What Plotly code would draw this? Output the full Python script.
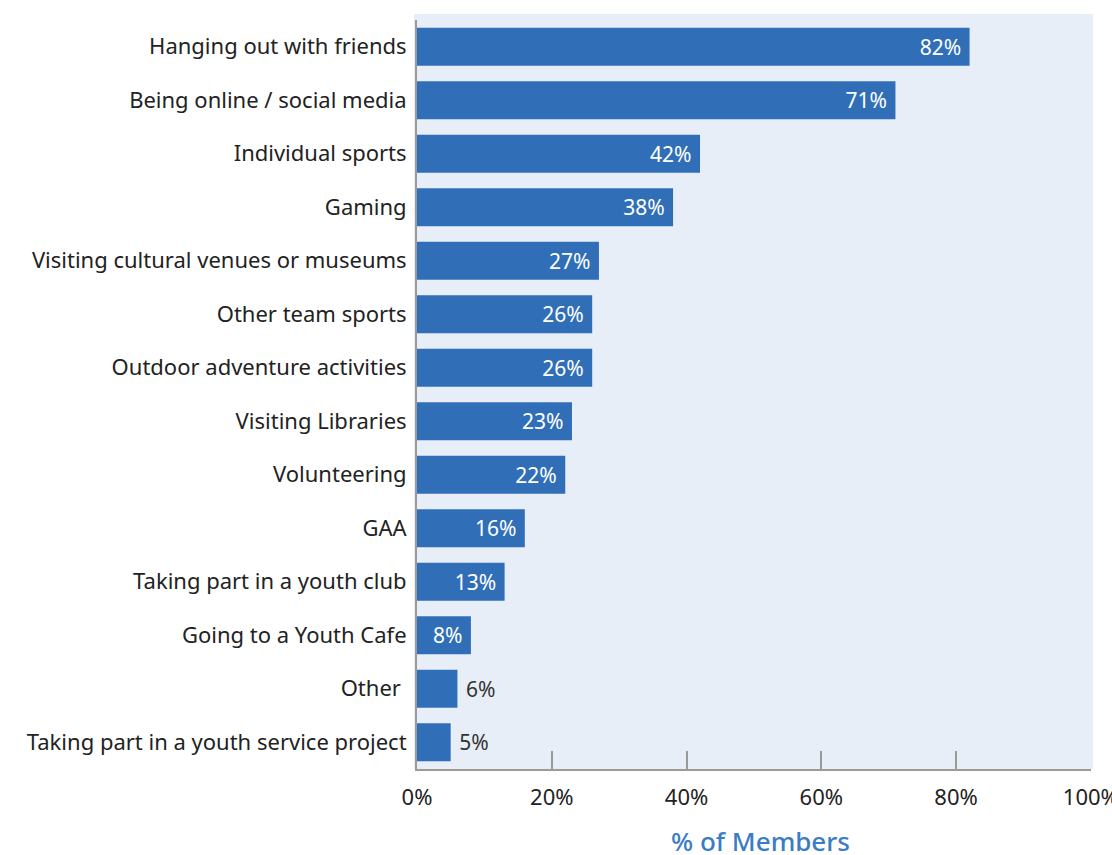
import plotly.graph_objects as go

# Leisure activities of members, share of members (%)
activities = [
    "Hanging out with friends",
    "Being online / social media",
    "Individual sports",
    "Gaming",
    "Visiting cultural venues or museums",
    "Other team sports",
    "Outdoor adventure activities",
    "Visiting Libraries",
    "Volunteering",
    "GAA",
    "Taking part in a youth club",
    "Going to a Youth Cafe",
    "Other ",
    "Taking part in a youth service project",
]
shares = [82, 71, 42, 38, 27, 26, 26, 23, 22, 16, 13, 8, 6, 5]

x_ticks = [0, 20, 40, 60, 80, 100]
x_tick_labels = ["0%", "20%", "40%", "60%", "80%", "100%"]
x_title = "% of Members"

BAR = "#306fb8"
FONT = "'Noto Sans', 'Open Sans', sans-serif"
NB = "\u00a0"

# long bars carry their label inside, short ones just past the end
positions = ["inside" if v >= 8 else "outside" for v in shares]
labels = [f"{v}%{NB}" if v >= 8 else f"{NB}{v}%" for v in shares]

fig = go.Figure(
    go.Bar(
        x=shares,
        y=activities,
        orientation="h",
        marker=dict(color=BAR, line=dict(width=0)),
        width=0.71,
        text=labels,
        textposition=positions,
        insidetextanchor="end",
        insidetextfont=dict(color="white", size=21, family=FONT),
        outsidetextfont=dict(color="#333333", size=21, family=FONT),
        textangle=0,
        cliponaxis=False,
        hoverinfo="skip",
    )
)

# light panel behind the bars, slightly wider than the axes
fig.add_shape(
    type="rect", xref="paper", yref="paper",
    x0=-0.0045, x1=1.003, y0=0, y1=1.008,
    fillcolor="#e8eef7", line=dict(width=0), layer="below",
)

# x-axis title placed under the tick labels
fig.add_annotation(
    text=x_title, xref="paper", yref="paper",
    x=0.51, y=-0.0955, xanchor="center", yanchor="middle",
    showarrow=False, borderpad=0,
    font=dict(size=26, color="#3a7cc5", family=FONT, weight=500),
)

fig.update_layout(
    width=1112,
    height=855,
    margin=dict(l=417, r=21, t=20, b=86, autoexpand=False),
    paper_bgcolor="white",
    plot_bgcolor="rgba(0,0,0,0)",
    showlegend=False,
    font=dict(family=FONT, color="#222222", size=22),
    uniformtext=dict(minsize=10),
)

fig.update_xaxes(
    range=[0, 100.02],
    tickvals=x_ticks,
    ticktext=x_tick_labels,
    ticks="inside",
    ticklen=18,
    tickwidth=2,
    tickcolor="#9a9a9a",
    showline=True,
    linecolor="#9a9a9a",
    linewidth=2,
    showgrid=False,
    zeroline=False,
    automargin=False,
    ticklabeloverflow="allow",
    tickfont=dict(size=22, color="#222222", family=FONT),
    ticklabelstandoff=8,
)

fig.update_yaxes(
    categoryorder="array",
    categoryarray=activities[::-1],
    range=[-0.5, 13.5],
    showline=True,
    linecolor="#9a9a9a",
    linewidth=2,
    ticks="",
    showgrid=False,
    zeroline=False,
    automargin=False,
    tickfont=dict(size=22, color="#222222", family=FONT),
    ticklabelstandoff=4,
)

fig.write_html("out.html")
